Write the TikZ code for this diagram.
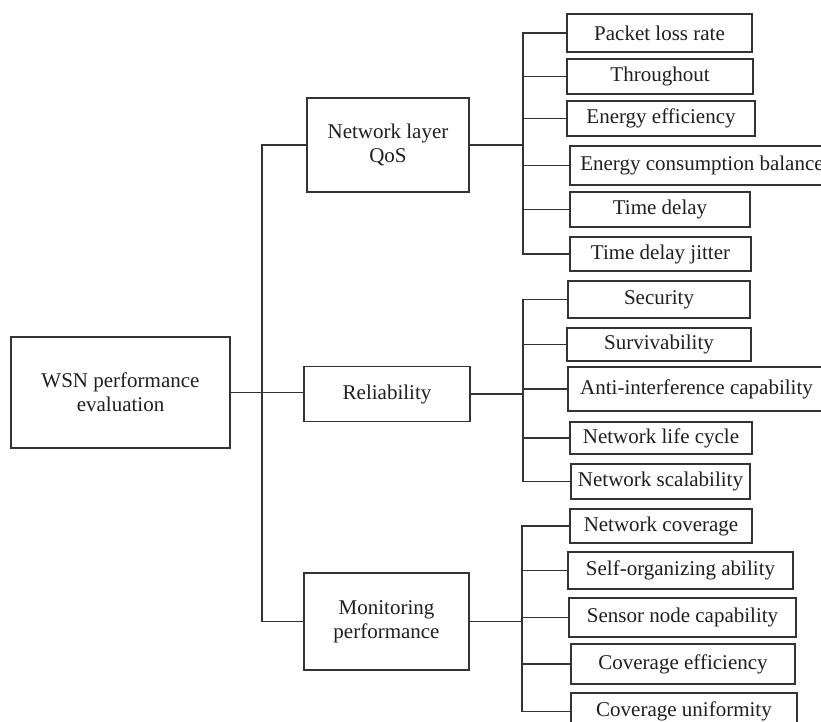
\documentclass[tikz,border=0pt]{standalone}
\usepackage{fontspec}
\setmainfont{Liberation Serif}
\begin{document}
\begin{tikzpicture}[x=1pt,y=-1pt,
  box/.style={draw=black!80, line width=1.2pt, fill=white, inner sep=0pt, align=center,
    font=\fontsize{21}{24}\selectfont, text=black!88},
  link/.style={draw=black!80, line width=1.2pt}]
\useasboundingbox (0,0) rectangle (821,722);
\clip (0,0) rectangle (821,722);
% root and level 1
\node[box, minimum width=219pt, minimum height=111pt] (root) at (120.5,392.5) {WSN performance\\evaluation};
\node[box, minimum width=162pt, minimum height=94pt] (qos) at (388,145) {Network layer\\QoS};
\node[box, minimum width=166pt, minimum height=55pt] (rel) at (387,394) {Reliability};
\node[box, minimum width=165pt, minimum height=97pt] (mon) at (386.5,621.5) {Monitoring\\performance};
% QoS children
\node[box, minimum width=185pt, minimum height=38pt] (p1) at (659.5,33) {Packet loss rate};
\node[box, minimum width=186pt, minimum height=35pt] (p2) at (660,76.5) {Throughout};
\node[box, minimum width=188pt, minimum height=35pt] (p3) at (661,118.5) {Energy efficiency};
\node[box, minimum width=264pt, minimum height=39pt] (p4) at (702,165.5) {Energy consumption balance};
\node[box, minimum width=180pt, minimum height=35pt] (p5) at (660,209.5) {Time delay};
\node[box, minimum width=181pt, minimum height=34pt] (p6) at (660.5,254) {Time delay jitter};
% Reliability children
\node[box, minimum width=182pt, minimum height=37pt] (r1) at (659,299.5) {Security};
\node[box, minimum width=184pt, minimum height=33pt] (r2) at (659,344.5) {Survivability};
\node[box, minimum width=257pt, minimum height=44pt] (r3) at (696.5,389) {Anti-interference capability};
\node[box, minimum width=182pt, minimum height=32pt] (r4) at (661,438) {Network life cycle};
\node[box, minimum width=179pt, minimum height=35pt] (r5) at (660.5,481.5) {Network scalability};
% Monitoring children
\node[box, minimum width=182pt, minimum height=34pt] (m1) at (661,526) {Network coverage};
\node[box, minimum width=225pt, minimum height=37pt] (m2) at (680.5,570.5) {Self-organizing ability};
\node[box, minimum width=227pt, minimum height=39pt] (m3) at (682.5,617.5) {Sensor node capability};
\node[box, minimum width=224pt, minimum height=40pt] (m4) at (683,664) {Coverage efficiency};
\node[box, minimum width=226pt, minimum height=37pt] (m5) at (684,711.5) {Coverage uniformity};
% bracket coordinates
\coordinate (tr) at (262,393);
\coordinate (qb) at (523,145);
\coordinate (rb) at (523,394);
\coordinate (mb) at (522,621.5);
% trunk
\draw[link] (root.east) -- (root.east -| rel.west);
\draw[link] (qos.west) -- (qos.west -| tr) -- (mon.west -| tr) -- (mon.west);
% QoS bracket
\draw[link] (qos.east) -- (qb);
\draw[link] (p1.west) -- (p1.west -| qb) -- (p6.west -| qb) -- (p6.west);
\foreach \c in {p2,p3,p4,p5} \draw[link] (\c.west) -- (\c.west -| qb);
% Reliability bracket
\draw[link] (rel.east) -- (rb);
\draw[link] (r1.west) -- (r1.west -| rb) -- (r5.west -| rb) -- (r5.west);
\foreach \c in {r2,r3,r4} \draw[link] (\c.west) -- (\c.west -| rb);
% Monitoring bracket
\draw[link] (mon.east) -- (mb);
\draw[link] (m1.west) -- (m1.west -| mb) -- (m5.west -| mb) -- (m5.west);
\foreach \c in {m2,m3,m4} \draw[link] (\c.west) -- (\c.west -| mb);
\end{tikzpicture}
\end{document}
